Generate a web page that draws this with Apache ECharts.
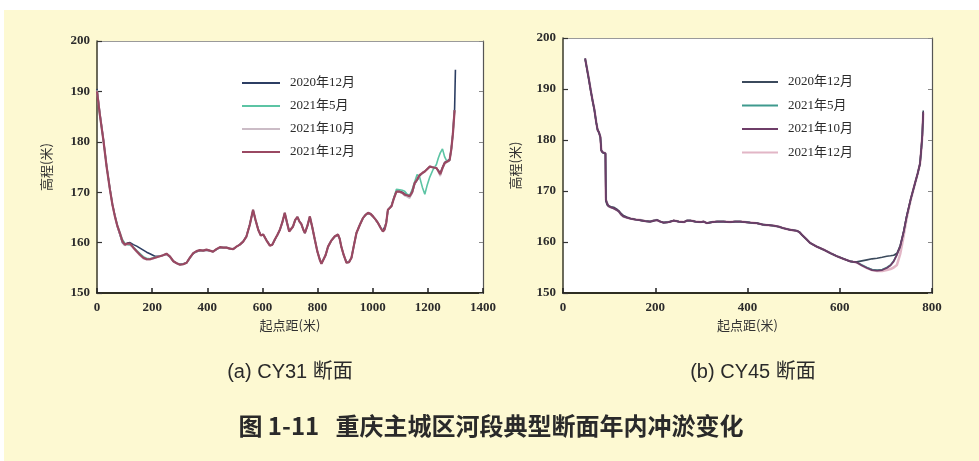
<!DOCTYPE html>
<html>
<head>
<meta charset="utf-8">
<script src="https://cdn.jsdelivr.net/npm/echarts@6/dist/echarts.min.js"></script>
<style>
html,body{margin:0;padding:0;background:#ffffff;}
#bg{position:absolute;left:4px;top:10px;width:975px;height:451px;background:#fdf9d2;}
#chart{position:absolute;left:0;top:0;width:979px;height:461px;}
</style>
</head>
<body>
<div id="bg"></div>
<div id="chart"></div>
<script>
// ---------- (a) CY31 section ----------
const seriesNames = ['2020年12月', '2021年5月', '2021年10月', '2021年12月'];
const xTicksA = [0, 200, 400, 600, 800, 1000, 1200, 1400];
const yTicks = [150, 160, 170, 180, 190, 200];
const xTicksB = [0, 200, 400, 600, 800];

const distA = [
  0, 10, 23, 35, 47, 56, 65, 74, 83, 92,
  101, 110, 120, 132, 144, 156, 168, 180, 192, 210,
  228, 240, 252, 265, 277, 289, 301, 313, 325, 337,
  349, 361, 373, 385, 397, 409, 421, 433, 446, 458,
  470, 482, 494, 506, 518, 530, 542, 554, 566, 575,
  585, 594, 603, 615, 627, 636, 645, 654, 663, 672,
  681, 689, 697, 704, 711, 719, 727, 734, 741, 748,
  754, 763, 772, 781, 790, 799, 808, 814, 820, 829,
  838, 850, 862, 868, 874, 880, 886, 895, 905, 914,
  923, 932, 941, 953, 965, 974, 983, 992, 1001, 1010,
  1019, 1028, 1037, 1043, 1049, 1055, 1061, 1068, 1077, 1086,
  1092, 1098, 1107, 1116, 1125, 1134, 1143, 1152, 1161, 1170,
  1180, 1189, 1198, 1207, 1219, 1231, 1238, 1245, 1253, 1261,
  1270, 1279, 1285, 1291, 1294, 1297, 1300
];
const a2020Dec = [
  190.5, 185.8, 180.6, 175.2, 170.6, 167.6, 165.3, 163.2, 161.6, 160.0,
  159.5, 159.9, 160.0, 159.6, 159.3, 158.9, 158.5, 158.1, 157.8, 157.3,
  157.3, 157.5, 157.7, 157.1, 156.3, 155.9, 155.7, 155.8, 156.0, 157.0,
  157.8, 158.2, 158.4, 158.4, 158.5, 158.4, 158.2, 158.6, 159.0, 159.0,
  159.0, 158.8, 158.7, 159.2, 159.6, 160.2, 161.3, 163.6, 166.4, 164.5,
  162.6, 161.5, 161.6, 160.5, 159.5, 159.6, 160.6, 161.5, 162.5, 164.0,
  165.8, 164.0, 162.3, 162.4, 163.2, 164.5, 165.0, 164.2, 163.7, 162.6,
  161.9, 163.3, 165.1, 163.0, 160.6, 158.3, 156.7, 155.9, 155.7, 157.5,
  159.2, 160.4, 161.2, 161.4, 161.5, 160.8, 159.2, 157.5, 156.1, 156.2,
  157.0, 159.5, 161.9, 163.5, 164.9, 165.5, 165.8, 165.7, 165.2, 164.6,
  163.9, 163.0, 162.3, 162.6, 163.9, 166.4, 166.8, 167.3, 168.9, 170.2,
  170.4, 170.2, 170.0, 169.7, 169.3, 169.0, 169.9, 171.6, 172.4, 173.2,
  173.8, 174.2, 174.6, 175.0, 175.0, 174.8, 174.3, 173.8, 174.9, 175.9,
  176.2, 176.5, 178.6, 181.7, 184.5, 186.5, 194.3
];
const a2021May = [
  189.8, 185.4, 180.3, 175.0, 170.6, 167.6, 165.3, 163.4, 162.0, 160.6,
  159.9, 159.6, 159.5, 159.1, 158.4, 157.8, 157.2, 156.9, 156.8, 157.1,
  157.3, 157.5, 157.8, 157.2, 156.3, 155.9, 155.6, 155.7, 156.0, 157.0,
  157.9, 158.3, 158.5, 158.4, 158.6, 158.4, 158.2, 158.7, 159.1, 159.0,
  159.0, 158.8, 158.7, 159.2, 159.6, 160.2, 161.2, 163.5, 166.5, 164.5,
  162.5, 161.4, 161.6, 160.4, 159.4, 159.6, 160.6, 161.5, 162.5, 164.0,
  165.9, 164.0, 162.2, 162.4, 163.2, 164.5, 165.1, 164.2, 163.7, 162.6,
  161.9, 163.3, 165.2, 163.0, 160.6, 158.3, 156.6, 155.8, 155.6, 157.5,
  159.2, 160.4, 161.2, 161.4, 161.6, 160.8, 159.2, 157.5, 156.0, 156.1,
  157.0, 159.5, 161.9, 163.5, 164.9, 165.5, 165.9, 165.7, 165.2, 164.6,
  163.9, 163.0, 162.2, 162.6, 163.9, 166.5, 166.8, 167.3, 168.9, 170.6,
  170.8, 170.5, 170.4, 170.2, 169.6, 169.4, 170.5, 172.0, 173.5, 173.0,
  171.0, 169.6, 171.5, 173.0, 174.5, 175.5, 176.8, 177.8, 178.6, 177.0,
  176.0, 176.3, 178.5, 181.7, 184.0, 186.3, null
];
const a2021Oct = [
  190.2, 185.7, 180.5, 175.1, 170.4, 167.4, 165.0, 163.1, 161.7, 160.1,
  159.4, 159.7, 159.6, 158.9, 158.1, 157.4, 156.8, 156.6, 156.6, 156.9,
  157.3, 157.5, 157.8, 157.2, 156.3, 155.9, 155.6, 155.7, 156.0, 157.0,
  157.9, 158.3, 158.5, 158.4, 158.6, 158.4, 158.2, 158.7, 159.1, 159.0,
  159.0, 158.8, 158.7, 159.2, 159.6, 160.2, 161.2, 163.5, 166.5, 164.5,
  162.5, 161.4, 161.6, 160.4, 159.4, 159.6, 160.6, 161.5, 162.5, 164.0,
  165.9, 164.0, 162.2, 162.4, 163.2, 164.5, 165.1, 164.2, 163.7, 162.6,
  161.9, 163.3, 165.2, 163.0, 160.6, 158.3, 156.6, 155.8, 155.6, 157.5,
  159.2, 160.4, 161.2, 161.4, 161.6, 160.8, 159.2, 157.5, 156.0, 156.1,
  157.0, 159.5, 161.9, 163.5, 164.9, 165.5, 165.9, 165.7, 165.2, 164.6,
  163.9, 163.0, 162.2, 162.6, 163.9, 166.5, 166.8, 167.2, 168.8, 170.0,
  170.2, 170.0, 169.8, 169.3, 169.1, 168.8, 169.8, 171.6, 172.6, 173.5,
  173.9, 174.2, 174.7, 175.2, 175.0, 174.9, 174.0, 173.2, 174.6, 175.6,
  176.0, 176.3, 178.4, 181.5, 183.8, 186.0, null
];
const a2021Dec = [
  190.0, 185.5, 180.4, 175.0, 170.5, 167.5, 165.2, 163.3, 161.9, 160.3,
  159.6, 159.8, 159.8, 159.0, 158.3, 157.6, 157.0, 156.7, 156.7, 157.0,
  157.3, 157.5, 157.8, 157.2, 156.3, 155.9, 155.6, 155.7, 156.0, 157.0,
  157.9, 158.3, 158.5, 158.4, 158.6, 158.4, 158.2, 158.7, 159.1, 159.0,
  159.0, 158.8, 158.7, 159.2, 159.6, 160.2, 161.2, 163.5, 166.5, 164.5,
  162.5, 161.4, 161.6, 160.4, 159.4, 159.6, 160.6, 161.5, 162.5, 164.0,
  165.9, 164.0, 162.2, 162.4, 163.2, 164.5, 165.1, 164.2, 163.7, 162.6,
  161.9, 163.3, 165.2, 163.0, 160.6, 158.3, 156.6, 155.8, 155.6, 157.5,
  159.2, 160.4, 161.2, 161.4, 161.6, 160.8, 159.2, 157.5, 156.0, 156.1,
  157.0, 159.5, 161.9, 163.5, 164.9, 165.5, 165.9, 165.7, 165.2, 164.6,
  163.9, 163.0, 162.2, 162.6, 163.9, 166.5, 166.8, 167.2, 168.8, 170.1,
  170.3, 170.1, 169.9, 169.5, 169.4, 169.2, 170.0, 171.8, 172.5, 173.4,
  173.8, 174.1, 174.6, 175.1, 174.9, 174.8, 174.2, 173.6, 174.8, 175.8,
  176.1, 176.4, 178.5, 181.7, 184.0, 186.3, null
];

// ---------- (b) CY45 section ----------
const distB = [
  48, 52, 56, 60, 64, 68, 72, 75, 78, 81,
  83, 86, 89, 92, 93, 96, 99, 104, 110, 116,
  121, 126, 131, 138, 146, 157, 168, 178, 189, 196,
  204, 211, 218, 229, 240, 251, 262, 269, 276, 287,
  298, 305, 312, 323, 334, 348, 362, 373, 384, 395,
  406, 420, 434, 446, 457, 468, 478, 492, 507, 513,
  518, 527, 536, 550, 565, 580, 594, 608, 623, 630,
  637, 648, 659, 670, 681, 692, 702, 710, 717, 724,
  731, 738, 745, 754, 763, 769, 774, 777, 779, 781
];
const b2020Dec = [
  195.8, 193.8, 191.8, 189.7, 187.7, 185.8, 183.4, 182.0, 181.4, 180.5,
  177.9, 177.5, 177.4, 177.3, 168.0, 167.2, 166.9, 166.9, 166.8, 166.5,
  166.1, 165.6, 165.2, 164.9, 164.6, 164.4, 164.2, 164.1, 164.0, 164.1,
  164.3, 164.0, 163.8, 163.9, 164.2, 164.0, 163.9, 164.2, 164.2, 164.0,
  163.9, 164.0, 163.7, 163.9, 164.0, 164.0, 163.9, 164.0, 164.0, 163.9,
  163.8, 163.7, 163.4, 163.3, 163.2, 163.0, 162.7, 162.4, 162.2, 161.9,
  161.4, 160.6, 159.8, 159.1, 158.5, 157.8, 157.2, 156.7, 156.2, 156.1,
  156.1, 156.3, 156.5, 156.7, 156.8, 157.0, 157.2, 157.3, 157.4, 157.8,
  159.3, 161.8, 165.0, 168.4, 171.4, 173.4, 175.3, 178.5, 181.0, 185.8
];
const b2021May = [
  196.0, 194.0, 192.0, 189.8, 187.8, 186.0, 183.5, 182.0, 181.5, 180.6,
  178.0, 177.6, 177.5, 177.4, 168.3, 167.5, 167.0, 166.8, 166.6, 166.3,
  166.0, 165.4, 165.0, 164.8, 164.6, 164.4, 164.3, 164.1, 164.0, 164.2,
  164.3, 164.0, 163.8, 163.9, 164.2, 164.0, 163.9, 164.2, 164.2, 164.0,
  163.9, 164.0, 163.7, 163.9, 164.0, 164.0, 163.9, 164.0, 164.0, 163.9,
  163.8, 163.7, 163.4, 163.3, 163.2, 163.0, 162.7, 162.4, 162.2, 161.9,
  161.4, 160.6, 159.8, 159.1, 158.5, 157.8, 157.2, 156.7, 156.2, 156.1,
  156.0, 155.5, 155.0, 154.6, 154.5, 154.6, 155.0, 155.5, 156.3, 157.6,
  159.1, 161.8, 165.0, 168.5, 171.5, 173.5, 175.4, 178.5, 181.0, 185.5
];
const b2021Oct = [
  196.0, 194.0, 192.0, 189.8, 187.8, 186.0, 183.5, 182.0, 181.5, 180.6,
  178.0, 177.6, 177.5, 177.4, 168.3, 167.5, 167.0, 166.8, 166.6, 166.3,
  166.0, 165.4, 165.0, 164.8, 164.6, 164.4, 164.3, 164.1, 164.0, 164.2,
  164.3, 164.0, 163.8, 163.9, 164.2, 164.0, 163.9, 164.2, 164.2, 164.0,
  163.9, 164.0, 163.7, 163.9, 164.0, 164.0, 163.9, 164.0, 164.0, 163.9,
  163.8, 163.7, 163.4, 163.3, 163.2, 163.0, 162.7, 162.4, 162.2, 161.9,
  161.4, 160.6, 159.8, 159.1, 158.5, 157.8, 157.2, 156.7, 156.2, 156.1,
  156.0, 155.4, 154.9, 154.5, 154.4, 154.5, 154.9, 155.4, 156.2, 157.5,
  159.1, 161.8, 165.0, 168.5, 171.5, 173.5, 175.4, 178.5, 181.0, 185.5
];
const b2021Dec = [
  196.0, 194.0, 192.0, 189.8, 187.8, 186.0, 183.5, 182.0, 181.5, 180.6,
  178.0, 177.6, 177.5, 177.4, 168.3, 167.5, 167.0, 166.8, 166.6, 166.3,
  166.0, 165.4, 165.0, 164.8, 164.6, 164.4, 164.3, 164.1, 164.0, 164.2,
  164.3, 164.0, 163.8, 163.9, 164.2, 164.0, 163.9, 164.2, 164.2, 164.0,
  163.9, 164.0, 163.7, 163.9, 164.0, 164.0, 163.9, 164.0, 164.0, 163.9,
  163.8, 163.7, 163.4, 163.3, 163.2, 163.0, 162.7, 162.4, 162.2, 161.9,
  161.4, 160.6, 159.8, 159.1, 158.5, 157.8, 157.2, 156.7, 156.2, 156.1,
  156.0, 155.4, 154.9, 154.5, 154.3, 154.3, 154.5, 154.7, 155.0, 155.5,
  157.6, 160.9, 164.6, 168.3, 171.4, 173.4, 175.3, 178.3, 180.8, 185.2
];

const colorsA = ['#2c3e63', '#5cc4a4', '#cbbcc6', '#9a4862'];
const colorsB = ['#3b4a5c', '#3f9a8e', '#6e3d68', '#e2b6c6'];

function zip(xs, ys) { return xs.map((x, i) => [x, ys[i]]); }

const serifFont = "'Liberation Serif','Noto Sans CJK SC',serif";
const cjkFont = "'Noto Sans CJK SC','Liberation Sans',sans-serif";

function xAxisMain(grid, max, ticks) {
  return {
    type: 'value', gridIndex: grid, position: 'bottom', min: 0, max: max, interval: 200,
    name: '起点距(米)', nameLocation: 'middle', nameGap: 26,
    nameTextStyle: { fontFamily: cjkFont, fontSize: 13, color: '#333' },
    axisLine: { show: true, onZero: false, lineStyle: { color: '#2e2e22', width: 2 } },
    axisTick: { show: true, inside: true, length: 5, lineStyle: { color: '#222', width: 1.5 } },
    axisLabel: { margin: 8, fontSize: 13, color: '#2b2b2b', fontFamily: serifFont, fontWeight: 'bold',
      formatter: v => ticks.includes(v) ? String(v) : '' },
    splitLine: { show: false }
  };
}
function xAxisTop(grid, max) {
  return {
    type: 'value', gridIndex: grid, position: 'top', min: 0, max: max,
    axisLine: { show: true, onZero: false, lineStyle: { color: '#9a9a9a', width: 1 } },
    axisTick: { show: false }, axisLabel: { show: false }, splitLine: { show: false }
  };
}
function yAxisMain(grid, gap) {
  return {
    type: 'value', gridIndex: grid, position: 'left', min: 150, max: 200, interval: 10,
    name: '高程(米)', nameLocation: 'middle', nameGap: gap, nameRotate: 90,
    nameTextStyle: { fontFamily: cjkFont, fontSize: 13, color: '#333' },
    axisLine: { show: true, onZero: false, lineStyle: { color: '#3a3a2a', width: 1.5 } },
    axisTick: { show: true, inside: true, length: 5, lineStyle: { color: '#333', width: 1.2 } },
    axisLabel: { margin: 7, fontSize: 13, color: '#2b2b2b', fontFamily: serifFont, fontWeight: 'bold',
      formatter: v => yTicks.includes(v) ? String(v) : '' },
    splitLine: { show: false }
  };
}
function yAxisRight(grid) {
  return {
    type: 'value', gridIndex: grid, position: 'right', min: 150, max: 200, interval: 10,
    axisLine: { show: true, onZero: false, lineStyle: { color: '#555', width: 1.2 } },
    axisTick: { show: true, inside: true, length: 4, lineStyle: { color: '#888', width: 1 } },
    axisLabel: { show: false }, splitLine: { show: false }
  };
}
function lineSeries(name, xi, yi, data, color, width, z) {
  return {
    type: 'line', name: name, xAxisIndex: xi, yAxisIndex: yi, data: data,
    showSymbol: false, symbol: 'none', connectNulls: false, z: z,
    lineStyle: { color: color, width: width }, itemStyle: { color: color }
  };
}

const chart = echarts.init(document.getElementById('chart'), null, { renderer: 'canvas' });
const legendText = { fontFamily: serifFont, fontSize: 13, color: '#2b2b2b', lineHeight: 14, padding: [0, 0, 0, 5] };

chart.setOption({
  backgroundColor: 'transparent',
  animation: false,
  grid: [
    { left: 97, top: 41, width: 386, height: 252, show: true, backgroundColor: '#ffffff', borderWidth: 0 },
    { left: 563, top: 38, width: 369, height: 255, show: true, backgroundColor: '#ffffff', borderWidth: 0 }
  ],
  xAxis: [xAxisMain(0, 1400, xTicksA), xAxisTop(0, 1400), xAxisMain(1, 800, xTicksB), xAxisTop(1, 800)],
  yAxis: [yAxisMain(0, 44), yAxisRight(0), yAxisMain(1, 41), yAxisRight(1)],
  legend: [
    { orient: 'vertical', left: 237, top: 71, itemWidth: 38, itemHeight: 2, itemGap: 9, icon: 'rect',
      data: seriesNames, textStyle: legendText, selectedMode: false },
    { orient: 'vertical', left: 737, top: 70, itemWidth: 36, itemHeight: 2, itemGap: 9.5, icon: 'rect',
      data: seriesNames.map(n => 'B' + n), formatter: n => n.slice(1), textStyle: legendText, selectedMode: false }
  ],
  series: [
    lineSeries(seriesNames[0], 0, 0, zip(distA, a2020Dec), colorsA[0], 1.6, 2),
    lineSeries(seriesNames[1], 0, 0, zip(distA, a2021May), colorsA[1], 1.6, 3),
    lineSeries(seriesNames[2], 0, 0, zip(distA, a2021Oct), colorsA[2], 1.6, 4),
    lineSeries(seriesNames[3], 0, 0, zip(distA, a2021Dec), colorsA[3], 2.2, 5),
    lineSeries('B' + seriesNames[3], 2, 2, zip(distB, b2021Dec), colorsB[3], 2.5, 2),
    lineSeries('B' + seriesNames[1], 2, 2, zip(distB, b2021May), colorsB[1], 1.6, 3),
    lineSeries('B' + seriesNames[0], 2, 2, zip(distB, b2020Dec), colorsB[0], 1.6, 4),
    lineSeries('B' + seriesNames[2], 2, 2, zip(distB, b2021Oct), colorsB[2], 1.8, 5)
  ],
  graphic: [
    { type: 'text', x: 290, y: 372, style: { text: '(a) CY31 断面', font: "20px 'Liberation Sans','Noto Sans CJK SC',sans-serif", fill: '#2a2a2a', align: 'center', verticalAlign: 'middle' } },
    { type: 'text', x: 753, y: 372, style: { text: '(b) CY45 断面', font: "20px 'Liberation Sans','Noto Sans CJK SC',sans-serif", fill: '#2a2a2a', align: 'center', verticalAlign: 'middle' } },
    { type: 'text', x: 491, y: 426, style: { text: '图 1-11   重庆主城区河段典型断面年内冲淤变化', font: "bold 24px 'Noto Sans CJK SC','Liberation Sans',sans-serif", fill: '#2a2a2a', align: 'center', verticalAlign: 'middle' } }
  ]
});
</script>
</body>
</html>
